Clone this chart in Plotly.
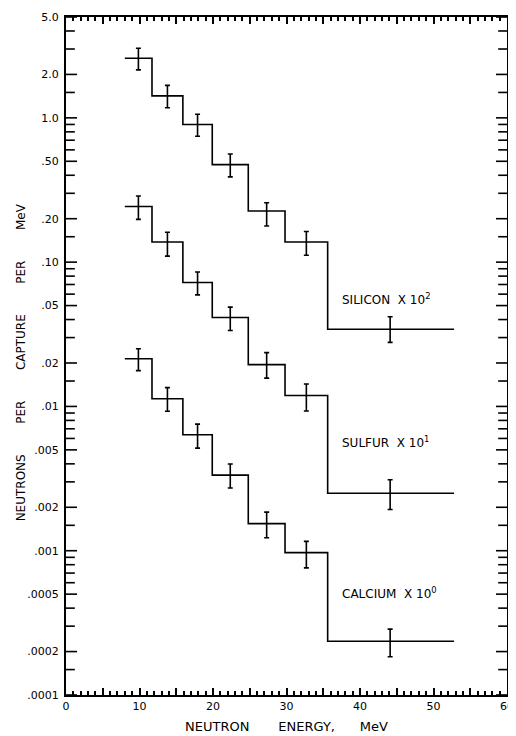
import numpy as np
import plotly.graph_objects as go

# ---- data ----
bin_edges = [8.0, 11.7, 15.9, 19.9, 24.8, 29.8, 35.6, 52.8]
bin_centers = [9.85, 13.8, 17.9, 22.35, 27.3, 32.7, 44.1]

silicon = [2.59, 1.42, 0.90, 0.474, 0.226, 0.138, 0.0343]
silicon_hi = [3.04, 1.68, 1.06, 0.562, 0.258, 0.163, 0.0418]
silicon_lo = [2.15, 1.175, 0.745, 0.39, 0.178, 0.1115, 0.0278]

sulfur = [0.243, 0.138, 0.0722, 0.0413, 0.0195, 0.0119, 0.0025]
sulfur_hi = [0.287, 0.161, 0.0855, 0.0488, 0.0236, 0.0143, 0.0031]
sulfur_lo = [0.198, 0.110, 0.0593, 0.0336, 0.0157, 0.0093, 0.00193]

calcium = [0.0214, 0.0113, 0.00636, 0.00334, 0.00154, 0.00097, 0.000236]
calcium_hi = [0.0251, 0.0135, 0.00754, 0.00399, 0.00185, 0.00116, 0.000286]
calcium_lo = [0.0177, 0.00927, 0.00514, 0.00272, 0.00123, 0.00076, 0.000184]

labels = ["SILICON\u00a0\u00a0X\u00a010<sup>2</sup>",
          "SULFUR\u00a0\u00a0X\u00a010<sup>1</sup>",
          "CALCIUM\u00a0\u00a0X\u00a010<sup>0</sup>"]
label_x = [37.3, 37.3, 37.3]
label_y = [0.0553, 0.00566, 0.000507]

y_major_vals = [5, 2, 1, 0.5, 0.2, 0.1, 0.05, 0.02, 0.01, 0.005, 0.002, 0.001,
                0.0005, 0.0002, 0.0001]
y_major_text = ["5.0", "2.0", "1.0", ".50", ".20", ".10", ".05", ".02", ".01",
                ".005", ".002", ".001", ".0005", ".0002", ".0001"]
y_minor_mult = [1.5, 3, 4, 6, 7, 8, 9]
x_tick_vals = list(range(0, 61, 5))
x_tick_text = [str(v) if v % 10 == 0 else "" for v in x_tick_vals]

x_title = "NEUTRON" + "\u00a0" * 7 + "ENERGY," + "\u00a0" * 6 + "MeV"
y_title = ("NEUTRONS" + "\u00a0" * 8 + "PER" + "\u00a0" * 8 + "CAPTURE" +
           "\u00a0" * 8 + "PER" + "\u00a0" * 8 + "MeV")

X_MIN, X_MAX = 0, 60

minor_y = []
for e in range(-4, 1):
    for m in y_minor_mult:
        v = float(f"{m}e{e}")
        if 0.0001 <= v <= 5:
            minor_y.append(v)

# ---- figure ----
FONT = "DejaVu Sans"
INK = "black"
fig = go.Figure()

for vals, hi, lo in [(silicon, silicon_hi, silicon_lo),
                     (sulfur, sulfur_hi, sulfur_lo),
                     (calcium, calcium_hi, calcium_lo)]:
    fig.add_trace(go.Scatter(
        x=bin_edges, y=vals + [vals[-1]], mode="lines",
        line=dict(shape="hv", color=INK, width=1.6),
        showlegend=False, hoverinfo="skip"))
    fig.add_trace(go.Scatter(
        x=bin_centers, y=vals, mode="markers",
        marker=dict(size=1, color=INK, opacity=0),
        error_y=dict(type="data", symmetric=False,
                     array=[h - v for h, v in zip(hi, vals)],
                     arrayminus=[v - l for v, l in zip(vals, lo)],
                     color=INK, thickness=1.6, width=2.5),
        showlegend=False))

# inward y-axis tick marks on the left and right frame edges, placed at the
# tick values through the log y scale (length given in x-axis units)
major_len = 1.5   # ~11 px
minor_len = 1.2   # ~9 px
tx, ty = [], []
for vals_list, ln in [(y_major_vals, major_len), (minor_y, minor_len)]:
    for v in vals_list:
        tx += [X_MIN, X_MIN + ln, None, X_MAX - ln, X_MAX, None]
        ty += [v, v, None, v, v, None]
fig.add_trace(go.Scatter(x=tx, y=ty, mode="lines", cliponaxis=False,
                         line=dict(color=INK, width=1.6),
                         showlegend=False, hoverinfo="skip"))

for t, xx, yy in zip(labels, label_x, label_y):
    fig.add_annotation(x=xx, y=np.log10(yy), xref="x", yref="y", text=t,
                       showarrow=False, xanchor="left", yanchor="middle",
                       font=dict(family=FONT, size=12, color=INK))

fig.add_annotation(x=0.5, y=-0.047, xref="paper", yref="paper", text=x_title,
                   showarrow=False, xanchor="center", yanchor="middle",
                   font=dict(family=FONT, size=13, color=INK))
fig.add_annotation(x=-0.103, y=0.49, xref="paper", yref="paper", text=y_title,
                   showarrow=False, xanchor="center", yanchor="middle",
                   textangle=-90, font=dict(family=FONT, size=12, color=INK))

# page body has an 8px margin, so the figure is a little smaller than the window
fig.update_layout(
    width=508, height=728,
    margin=dict(l=58, r=9, t=9, b=41, autoexpand=False),
    plot_bgcolor="white", paper_bgcolor="white",
    showlegend=False,
    xaxis=dict(range=[X_MIN, X_MAX], showgrid=False, zeroline=False,
               showline=True, linecolor=INK, linewidth=2, mirror="allticks",
               ticks="inside", ticklen=7, tickwidth=2, tickcolor=INK,
               tickmode="array", tickvals=x_tick_vals, ticktext=x_tick_text,
               tickfont=dict(family=FONT, size=11, color=INK),
               minor=dict(dtick=1, ticks="inside",
                          ticklen=4, tickwidth=1.5, tickcolor=INK)),
    yaxis=dict(type="log", range=[-4, np.log10(5)], showgrid=False, zeroline=False,
               showline=True, linecolor=INK, linewidth=2, mirror=True,
               ticks="", tickmode="array", tickvals=y_major_vals,
               ticktext=y_major_text, ticklabelstandoff=3,
               tickfont=dict(family=FONT, size=11, color=INK)),
)

fig.write_html("out.html")
